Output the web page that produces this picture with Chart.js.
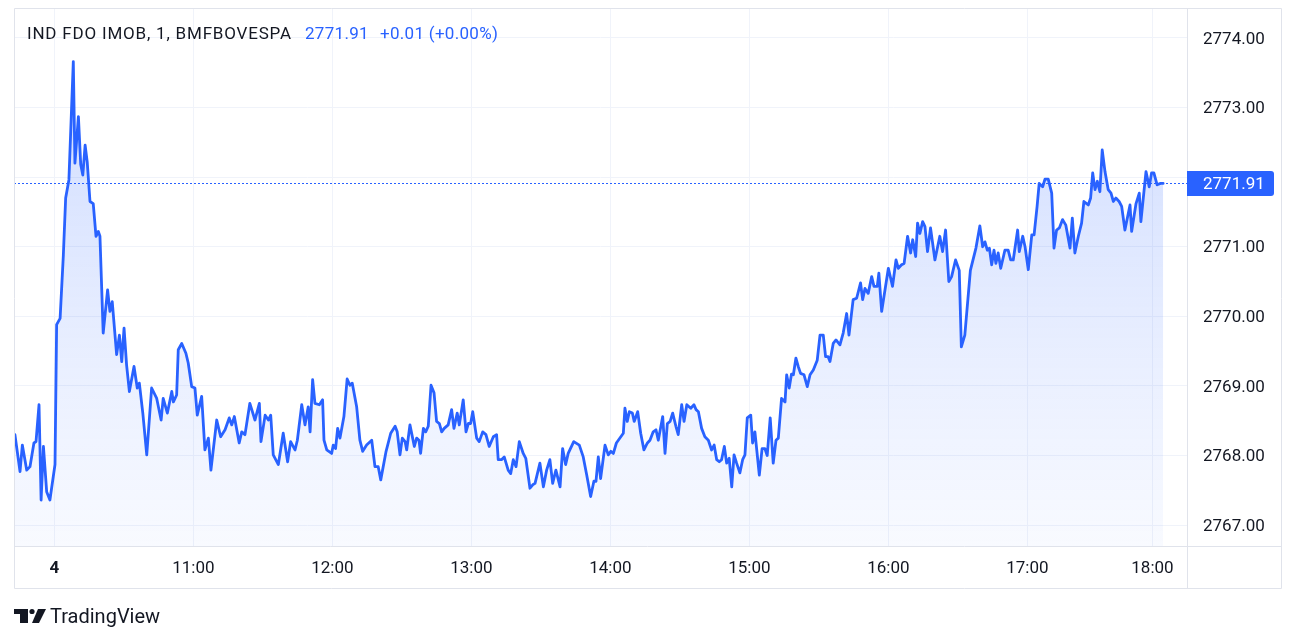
<!DOCTYPE html>
<html>
<head>
<meta charset="utf-8">
<title>IND FDO IMOB</title>
<script src="https://cdn.jsdelivr.net/npm/chart.js@4.4.1/dist/chart.umd.min.js"></script>
<style>
  html, body { margin: 0; padding: 0; background: #ffffff; }
  #wrap { width: 1306px; height: 631px; position: relative; }
</style>
</head>
<body>
<div id="wrap"><canvas id="myChart"></canvas></div>
<script>
// bar index (1-minute bars, 0 = 10:00) and price
const barIdx = [
  -17.0, -14.8, -13.8, -11.9, -10.5, -8.8, -7.9, -6.6, -5.7, -4.7, -3.3, -1.9, 0.3, 1.0, 2.5, 3.9, 4.9, 6.3,
  8.2, 8.9, 10.4, 11.4, 12.3, 13.3, 14.2, 15.4, 16.8, 18.0, 19.0, 19.7, 21.1, 23.0, 24.0, 25.0, 26.9, 28.1,
  29.1, 30.1, 31.2, 32.4, 34.4, 35.8, 36.7, 38.2, 39.9, 42.0, 44.2, 46.1, 47.0, 48.8, 50.7, 51.4, 52.8, 53.5,
  55.0, 56.8, 57.8, 59.3, 60.7, 61.7, 63.6, 65.0, 66.5, 67.6, 70.1, 71.8, 73.7, 75.5, 76.6, 77.7, 79.8, 80.9,
  82.3, 84.4, 86.6, 88.5, 89.2, 91.0, 92.4, 93.4, 94.5, 96.7, 98.8, 100.7, 102.0, 103.9, 104.9, 106.8, 108.2,
  109.6, 110.4, 111.5, 112.5, 114.4, 115.8, 116.4, 117.6, 119.7, 120.4, 121.4, 122.3, 123.3, 125.0, 126.4,
  127.6, 128.6, 130.5, 131.9, 133.1, 134.8, 137.0, 138.4, 139.8, 140.9, 143.2, 145.2, 147.1, 148.0, 149.2,
  150.2, 151.4, 152.1, 153.5, 155.4, 156.4, 157.4, 158.1, 159.3, 160.3, 161.4, 162.6, 163.9, 165.0, 166.2,
  167.2, 168.3, 170.0, 171.5, 172.5, 173.9, 174.8, 176.5, 177.7, 178.7, 179.7, 180.6, 182.3, 183.4, 184.9,
  186.3, 187.7, 189.5, 190.9, 191.6, 193.0, 194.2, 195.9, 197.0, 198.1, 199.3, 200.7, 202.4, 203.5, 205.3,
  206.5, 207.5, 209.6, 211.1, 212.5, 213.9, 215.1, 216.5, 218.3, 219.4, 220.7, 221.8, 224.2, 226.6, 228.3,
  229.8, 231.5, 232.9, 233.8, 234.8, 235.8, 237.7, 239.1, 240.2, 241.3, 242.6, 245.6, 246.3, 247.3, 248.2,
  249.5, 250.3, 251.8, 253.1, 254.5, 256.0, 257.1, 258.5, 259.7, 260.7, 262.6, 263.6, 264.6, 265.8, 266.9,
  268.3, 269.3, 270.8, 271.8, 273.0, 274.7, 276.1, 277.0, 278.0, 279.4, 280.8, 282.3, 283.7, 284.8, 285.9,
  287.0, 288.0, 289.2, 290.2, 291.3, 292.4, 293.4, 294.5, 295.9, 297.1, 298.1, 299.1, 300.6, 301.4, 302.4,
  304.3, 305.5, 306.7, 307.7, 309.0, 310.3, 311.5, 312.5, 313.9, 315.4, 316.1, 317.2, 318.2, 319.0, 320.1,
  321.1, 322.1, 323.6, 325.0, 326.2, 327.6, 329.3, 330.5, 331.9, 332.9, 334.0, 334.8, 336.2, 337.4, 339.1,
  340.5, 342.0, 343.0, 344.8, 346.3, 348.0, 348.9, 349.9, 351.3, 352.8, 353.8, 355.2, 355.9, 357.1, 360.0,
  361.8, 363.3, 364.3, 365.7, 366.8, 368.3, 369.6, 370.5, 371.8, 372.6, 373.6, 374.8, 375.8, 376.9, 378.2,
  380.1, 382.2, 383.4, 384.7, 386.1, 387.3, 389.0, 390.6, 391.5, 393.0, 395.4, 397.8, 399.5, 400.7, 401.7,
  402.7, 403.6, 404.6, 405.6, 406.4, 407.4, 408.5, 410.3, 411.7, 412.8, 413.9, 415.8, 416.5, 418.0, 419.0,
  420.4, 421.9, 422.9, 424.2, 425.1, 426.6, 427.6, 429.0, 430.5, 431.5, 432.6, 433.8, 435.2, 436.6, 438.4,
  439.4, 440.5, 442.0, 443.4, 444.4, 446.3, 447.3, 448.2, 449.2, 450.2, 451.3, 452.3, 453.5, 454.9, 456.1,
  457.1, 458.2, 459.6, 460.7, 462.1, 464.3, 465.0, 466.9, 468.3, 469.0, 471.2, 472.6, 473.6, 474.6, 476.0,
  477.5, 478.6
];

const price = [
  2768.30, 2767.77, 2768.15, 2767.79, 2767.84, 2768.18, 2768.20, 2768.73, 2767.36, 2768.13, 2767.48, 2767.36, 2767.87, 2769.88, 2769.97, 2770.88, 2771.70, 2771.96,
  2773.66, 2772.20, 2772.87, 2772.18, 2772.03, 2772.46, 2772.22, 2771.65, 2771.62, 2771.15, 2771.22, 2771.15, 2769.76, 2770.38, 2770.07, 2770.21, 2769.45, 2769.73,
  2769.35, 2769.83, 2769.30, 2768.92, 2769.28, 2768.97, 2769.04, 2768.61, 2768.01, 2768.97, 2768.82, 2768.51, 2768.82, 2768.61, 2768.92, 2768.77, 2768.87, 2769.52,
  2769.61, 2769.47, 2769.33, 2768.99, 2768.97, 2768.58, 2768.85, 2768.08, 2768.25, 2767.79, 2768.51, 2768.27, 2768.37, 2768.54, 2768.44, 2768.56, 2768.18, 2768.34,
  2768.30, 2768.75, 2768.51, 2768.75, 2768.20, 2768.58, 2768.51, 2768.58, 2768.01, 2767.87, 2768.32, 2767.91, 2768.20, 2768.08, 2768.22, 2768.73, 2768.44,
  2768.70, 2768.34, 2769.09, 2768.75, 2768.73, 2768.80, 2768.22, 2768.08, 2768.03, 2768.15, 2768.10, 2768.39, 2768.25, 2768.56, 2769.10,
  2769.01, 2769.04, 2768.70, 2768.22, 2768.06, 2768.15, 2768.22, 2767.84, 2767.84, 2767.65, 2768.06, 2768.32, 2768.42, 2768.34, 2768.01,
  2768.25, 2768.20, 2768.08, 2768.44, 2768.13, 2768.25, 2768.22, 2768.03, 2768.39, 2768.34, 2768.42, 2769.01, 2768.90, 2768.49, 2768.46,
  2768.34, 2768.39, 2768.44, 2768.66, 2768.39, 2768.61, 2768.44, 2768.80, 2768.34, 2768.46, 2768.46, 2768.63, 2768.25, 2768.20, 2768.34,
  2768.30, 2768.13, 2768.27, 2768.30, 2767.94, 2767.94, 2767.98, 2767.79, 2767.74, 2767.94, 2767.84, 2768.20, 2768.03, 2767.96, 2767.53,
  2767.58, 2767.60, 2767.89, 2767.55, 2767.79, 2767.94, 2767.60, 2767.79, 2767.55, 2768.10, 2767.87, 2768.03, 2768.20, 2768.15, 2767.98,
  2767.72, 2767.41, 2767.63, 2767.63, 2767.98, 2767.67, 2768.15, 2768.01, 2768.06, 2768.03, 2768.18, 2768.32, 2768.68, 2768.49, 2768.63,
  2768.61, 2768.49, 2768.63, 2768.32, 2768.08, 2768.18, 2768.22, 2768.34, 2768.37, 2768.22, 2768.56, 2768.03, 2768.46, 2768.49, 2768.61,
  2768.42, 2768.30, 2768.73, 2768.49, 2768.73, 2768.68, 2768.73, 2768.66, 2768.63, 2768.39, 2768.27, 2768.22, 2768.08, 2768.15, 2767.94,
  2767.91, 2767.94, 2768.13, 2767.89, 2767.96, 2767.55, 2768.01, 2767.89, 2767.75, 2767.94, 2768.01, 2768.54, 2768.58, 2768.18, 2768.34,
  2767.72, 2768.10, 2768.10, 2768.00, 2768.54, 2767.89, 2768.22, 2768.25, 2768.82, 2768.77, 2769.16, 2768.97, 2769.17, 2769.16, 2769.40,
  2769.28, 2769.18, 2769.16, 2768.99, 2769.16, 2769.23, 2769.37, 2769.73, 2769.73, 2769.42, 2769.42, 2769.35, 2769.61, 2769.66, 2769.59,
  2769.76, 2770.04, 2769.73, 2770.24, 2770.26, 2770.48, 2770.24, 2770.40, 2770.33, 2770.57, 2770.43, 2770.43, 2770.62, 2770.07, 2770.69,
  2770.43, 2770.81, 2770.69, 2770.74, 2770.76, 2771.15, 2770.91, 2771.10, 2770.86, 2771.34, 2771.19, 2771.36, 2771.29, 2770.93, 2771.27,
  2770.81, 2771.15, 2770.93, 2771.24, 2770.50, 2770.57, 2770.81, 2770.66, 2769.56, 2769.73, 2770.66, 2770.98, 2771.30, 2771.00, 2771.07,
  2770.95, 2770.98, 2770.74, 2770.95, 2770.76, 2770.91, 2770.69, 2770.95, 2770.95, 2770.81, 2770.81, 2771.24, 2770.93, 2771.15, 2771.00,
  2770.67, 2771.17, 2771.17, 2771.58, 2771.91, 2771.86, 2771.97, 2771.97, 2771.77, 2770.98, 2771.24, 2771.27, 2771.39, 2771.31, 2770.98,
  2771.41, 2770.91, 2771.15, 2771.34, 2771.65, 2771.60, 2771.70, 2772.06, 2771.82, 2771.94, 2771.79, 2772.39, 2772.08, 2771.82, 2771.77,
  2771.65, 2771.70, 2771.65, 2771.58, 2771.24, 2771.60, 2771.22, 2771.62, 2771.77, 2771.36, 2772.08, 2771.86, 2772.06, 2772.06, 2771.89,
  2771.91, 2771.91
];

// time axis ticks (bar index where each label sits)
const timeTickBars = [0, 60, 120, 180, 240, 300, 360, 420, 474];
const timeTickLabels = ['4', '11:00', '12:00', '13:00', '14:00', '15:00', '16:00', '17:00', '18:00'];

const priceTicks = [2767, 2768, 2769, 2770, 2771, 2772, 2773, 2774];

const symbolText = 'IND FDO IMOB, 1, BMFBOVESPA';
const lastPrice = 2771.91;
const priceChange = 0.01;
const priceChangePct = 0.00;

const BLUE = '#2962ff';
const TEXT = '#131722';
const FONT = 'Roboto, "Noto Sans", sans-serif';

const frame = {
  id: 'frame',
  afterDatasetsDraw(chart) {
    const { ctx, chartArea, scales } = chart;
    // dotted last price line
    const y = Math.round(scales.y.getPixelForValue(lastPrice)) + 0.5;
    ctx.save();
    ctx.strokeStyle = BLUE;
    ctx.lineWidth = 1;
    ctx.setLineDash([2, 2]);
    ctx.beginPath();
    ctx.moveTo(chartArea.left, y);
    ctx.lineTo(chartArea.right, y);
    ctx.stroke();
    ctx.restore();
  },
  afterDraw(chart) {
    const { ctx, chartArea, scales } = chart;
    const right = chart.width - 25;
    const bottom = chart.height - 43;
    ctx.save();
    // outer frame and separators
    ctx.strokeStyle = '#e0e3eb';
    ctx.lineWidth = 1;
    ctx.beginPath();
    ctx.rect(chartArea.left + 0.5, chartArea.top + 0.5, right - chartArea.left, bottom - chartArea.top);
    ctx.moveTo(chartArea.right + 0.5, chartArea.top);
    ctx.lineTo(chartArea.right + 0.5, bottom);
    ctx.moveTo(chartArea.left, chartArea.bottom + 0.5);
    ctx.lineTo(right, chartArea.bottom + 0.5);
    ctx.stroke();

    // price label on the axis
    const py = scales.y.getPixelForValue(lastPrice);
    ctx.fillStyle = BLUE;
    ctx.beginPath();
    ctx.roundRect(chartArea.right, py - 12.5, 87, 25, [0, 3, 3, 0]);
    ctx.fill();
    ctx.fillStyle = '#ffffff';
    ctx.font = '17px ' + FONT;
    ctx.textBaseline = 'middle';
    ctx.textAlign = 'left';
    ctx.fillText(lastPrice.toFixed(2), chartArea.right + 16, py + 1.5);

    // legend / title line
    ctx.letterSpacing = '0.8px';
    ctx.fillStyle = TEXT;
    ctx.fillText(symbolText, 27, 34.5);
    ctx.letterSpacing = '0.3px';
    ctx.fillStyle = BLUE;
    ctx.fillText(lastPrice.toFixed(2), 305, 34.5);
    ctx.fillText('+' + priceChange.toFixed(2) + ' (+' + priceChangePct.toFixed(2) + '%)', 380, 34.5);
    ctx.letterSpacing = '0px';

    // TradingView mark
    ctx.fillStyle = TEXT;
    ctx.fillRect(14, 609, 14, 5);
    ctx.fillRect(20, 609, 8, 14);
    ctx.beginPath();
    ctx.arc(32, 611.5, 2.6, 0, Math.PI * 2);
    ctx.fill();
    ctx.beginPath();
    ctx.moveTo(38, 609);
    ctx.lineTo(46, 609);
    ctx.lineTo(39, 623);
    ctx.lineTo(32, 623);
    ctx.closePath();
    ctx.fill();
    ctx.font = '20px ' + FONT;
    ctx.fillText('TradingView', 50, 618);
    ctx.restore();
  }
};

const ctx = document.getElementById('myChart');

new Chart(ctx, {
  type: 'line',
  data: {
    datasets: [{
      data: barIdx.map((b, i) => ({ x: b, y: price[i] })),
      borderColor: BLUE,
      borderWidth: 2.8,
      borderJoinStyle: 'round',
      borderCapStyle: 'round',
      pointRadius: 0,
      tension: 0,
      fill: 'start',
      backgroundColor: (c) => {
        const area = c.chart.chartArea;
        if (!area) return 'rgba(41,98,255,0.1)';
        const g = c.chart.ctx.createLinearGradient(0, area.top, 0, area.bottom);
        g.addColorStop(0, 'rgba(41,98,255,0.24)');
        g.addColorStop(1, 'rgba(41,98,255,0.03)');
        return g;
      }
    }]
  },
  options: {
    responsive: true,
    maintainAspectRatio: false,
    animation: false,
    layout: { padding: { left: 14, top: 8, right: 25, bottom: 43 } },
    plugins: {
      legend: { display: false },
      tooltip: { enabled: false }
    },
    scales: {
      x: {
        type: 'linear',
        min: -17.4,
        max: 488.9,
        afterBuildTicks: (scale) => { scale.ticks = timeTickBars.map(v => ({ value: v })); },
        afterFit: (scale) => { scale.height = 42; scale.paddingLeft = 0; scale.paddingRight = 0; },
        grid: { color: '#f0f3fa', drawTicks: false },
        border: { display: false },
        ticks: {
          autoSkip: false,
          maxRotation: 0,
          padding: 13,
          color: TEXT,
          font: (c) => ({ family: FONT, size: 17, weight: c.index === 0 ? 'bold' : 'normal' }),
          callback: (v, i) => timeTickLabels[i]
        }
      },
      y: {
        position: 'right',
        min: 2766.70,
        max: 2774.43,
        afterBuildTicks: (scale) => { scale.ticks = priceTicks.map(v => ({ value: v })); },
        afterFit: (scale) => { scale.width = 94; scale.paddingTop = 0; scale.paddingBottom = 0; },
        grid: { color: '#f0f3fa', drawTicks: false },
        border: { display: false },
        ticks: {
          padding: 16,
          labelOffset: 1.5,
          color: TEXT,
          font: { family: FONT, size: 17 },
          callback: (v) => v.toFixed(2)
        }
      }
    }
  },
  plugins: [frame]
});
</script>
</body>
</html>
